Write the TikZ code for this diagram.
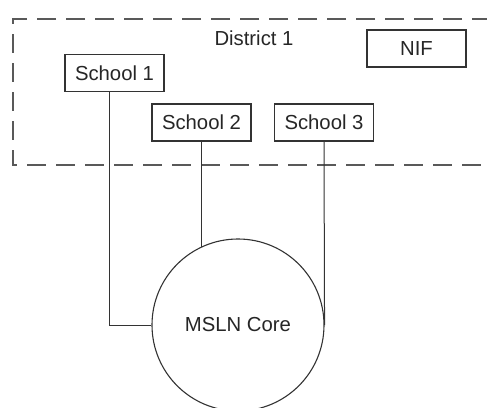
\documentclass[tikz,border=0pt]{standalone}
\usepackage{fontspec}
\setmainfont{Liberation Sans}
\begin{document}
\begin{tikzpicture}[x=1pt,y=-1pt,
  line width=1.1pt,
  every node/.style={font=\fontsize{20.3}{24}\selectfont, text=black!85},
  boxnode/.style={draw=black!80, rectangle, minimum width=99pt, minimum height=37pt, inner sep=0pt},
  wire/.style={draw=black!80, line width=1pt},
  zone/.style={draw=black!65, dash pattern=on 19pt off 10pt, line width=1.3pt}]
\useasboundingbox (0,0) rectangle (487,407);
\clip (0,0) rectangle (487,407);
\fill[white] (0,0) rectangle (487,407);
% district zone
\draw[zone] (520,19) -- (13,19) -- (13,165) -- (520,165);
\node (district) at (254,38) {District 1};
% nodes
\node[boxnode] (s1) at (114.5,73) {School 1};
\node[boxnode] (s2) at (201.5,122.5) {School 2};
\node[boxnode] (s3) at (324,122.5) {School 3};
\node[boxnode] (nif) at (416.5,48.5) {NIF};
\node[draw=black!80, circle, minimum size=172pt, inner sep=0pt, line width=1.1pt] (core) at (238,325) {MSLN Core};
% connectors
\coordinate (c1) at (109,325);
\draw[wire] (s1.south -| c1) -- (c1) -- (core.west);
\draw[wire] (s2.south) -- (s2.south |- core.115.5);
\draw[wire] (s3.south) -- (core.east);
\end{tikzpicture}
\end{document}
